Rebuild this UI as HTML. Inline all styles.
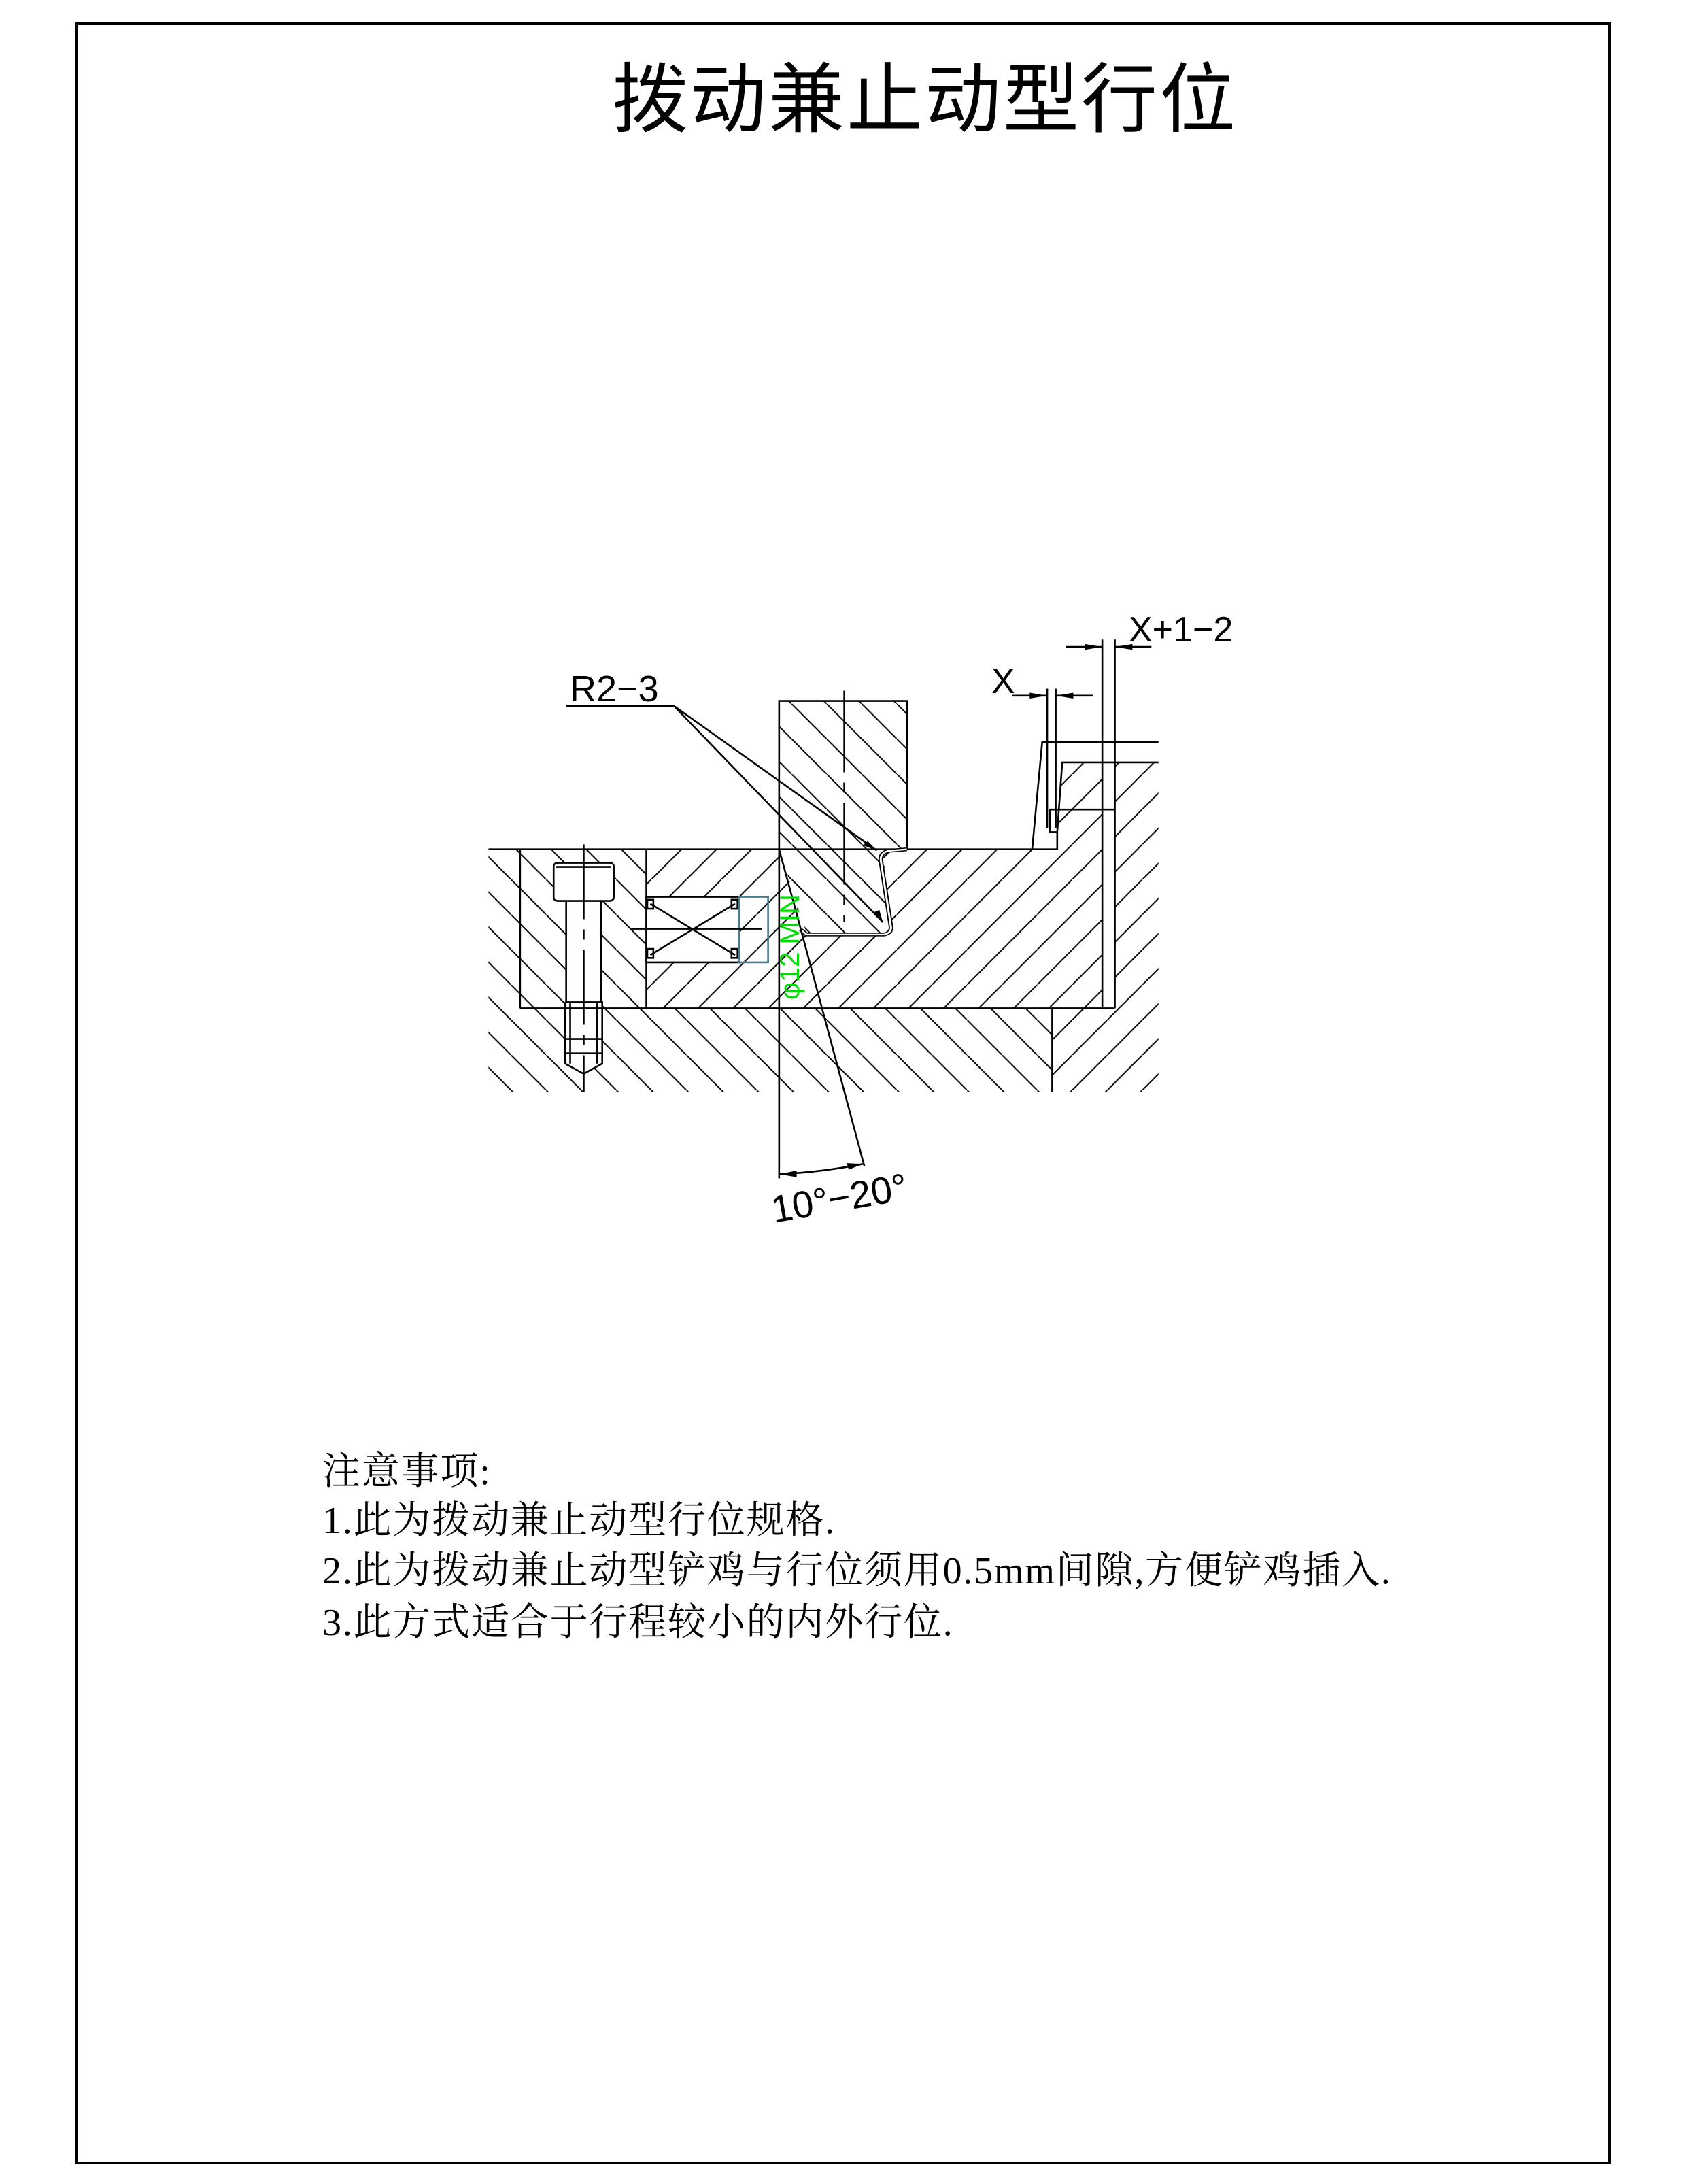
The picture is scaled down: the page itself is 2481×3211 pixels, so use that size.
<!DOCTYPE html>
<html><head><meta charset="utf-8"><style>
html,body{margin:0;padding:0;background:#fff;}
body{width:2481px;height:3211px;position:relative;overflow:hidden;}
svg{position:absolute;left:0;top:0;}
</style></head><body>
<svg width="2481" height="3211" viewBox="0 0 2481 3211" xmlns="http://www.w3.org/2000/svg">
<defs>
<pattern id="f" patternUnits="userSpaceOnUse" width="70" height="85.7"><line x1="-7" y1="94.3" x2="77" y2="-8.6" stroke="#000" stroke-width="3"/></pattern>
<pattern id="b" patternUnits="userSpaceOnUse" width="70" height="85.7"><line x1="-7" y1="-8.6" x2="77" y2="94.3" stroke="#000" stroke-width="3"/></pattern>
</defs>
<rect x="113" y="35" width="2254" height="3145" fill="none" stroke="#000" stroke-width="4"/>
<text x="1360" y="185" text-anchor="middle" font-family="'Liberation Sans','Noto Sans CJK SC',sans-serif" font-size="112" letter-spacing="3">拨动兼止动型行位</text>

<g transform="translate(700,880) scale(0.7369,0.6024)" fill="none" stroke="#000" stroke-width="2.6">
<rect x="25" y="612" width="315" height="388" fill="url(#b)" stroke="none"/>
<polygon points="340,612 1160,612 1160,515 1250,515 1250,1000 340,1000" fill="url(#f)" stroke="none"/>
<rect x="25" y="1000" width="1125" height="205" fill="url(#b)" stroke="none"/>
<rect x="1150" y="1000" width="212" height="205" fill="url(#f)" stroke="none"/>
<rect x="1275" y="400" width="87" height="600" fill="url(#f)" stroke="none"/>
<polygon points="1170,400 1250,400 1250,515 1160,515" fill="url(#f)" stroke="none"/>
<polygon points="605,250 860,250 860,612 812,620 830,805 818,818 660,818 605,612" fill="#fff" stroke="none"/>
<polygon points="605,250 860,250 860,612 812,620 830,805 818,818 660,818 605,612" fill="url(#b)" stroke="none"/>
<rect x="1250" y="100" width="25" height="900" fill="#fff" stroke="none"/>
<rect x="340" y="728" width="185" height="160" fill="#fff" stroke="none"/>
<rect x="155" y="645" width="120" height="93" fill="#fff" stroke="none"/>
<rect x="180" y="738" width="70" height="247" fill="#fff" stroke="none"/>
<polygon points="178,985 252,985 252,1135 215,1160 178,1135" fill="#fff" stroke="none"/>
<polygon points="1110,612 1130,350 1170,350 1160,570 1160,612" fill="#fff" stroke="none"/>
<g>
<polyline vector-effect="non-scaling-stroke" points="25,612 605,612"/>
<polyline vector-effect="non-scaling-stroke" points="860,612 1110,612"/>
<rect vector-effect="non-scaling-stroke" x="605" y="250" width="255" height="362"/>
<line vector-effect="non-scaling-stroke" x1="88" y1="612" x2="88" y2="1000"/>
<line vector-effect="non-scaling-stroke" x1="340" y1="612" x2="340" y2="1000"/>
<line vector-effect="non-scaling-stroke" x1="88" y1="1000" x2="1275" y2="1000"/>
<line vector-effect="non-scaling-stroke" x1="1150" y1="1000" x2="1150" y2="1205"/>
<line vector-effect="non-scaling-stroke" x1="1250" y1="100" x2="1250" y2="1000"/>
<line vector-effect="non-scaling-stroke" x1="1275" y1="100" x2="1275" y2="1000"/>
<path d="M860,612 L822,616 Q806,622 808,640 L828,800 Q830,815 815,820 L660,820 L648,808" stroke="#000" stroke-width="9" fill="none"/>
<path d="M860,612 L822,616 Q806,622 808,640 L828,800 Q830,815 815,820 L660,820 L648,808" stroke="#fff" stroke-width="4" fill="none"/>
<line vector-effect="non-scaling-stroke" x1="605" y1="612" x2="650" y2="815"/>
<line vector-effect="non-scaling-stroke" x1="735" y1="225" x2="735" y2="790" stroke-dasharray="120 15 15 15"/>
<rect vector-effect="non-scaling-stroke" x="155" y="645" width="120" height="93" rx="8"/>
<line vector-effect="non-scaling-stroke" x1="160" y1="655" x2="270" y2="655"/>
<line vector-effect="non-scaling-stroke" x1="180" y1="738" x2="180" y2="985"/>
<line vector-effect="non-scaling-stroke" x1="250" y1="738" x2="250" y2="985"/>
<polyline vector-effect="non-scaling-stroke" points="178,985 178,1135 215,1160 252,1135 252,985 178,985"/>
<line vector-effect="non-scaling-stroke" x1="188" y1="985" x2="188" y2="1135"/>
<line vector-effect="non-scaling-stroke" x1="242" y1="985" x2="242" y2="1135"/>
<line vector-effect="non-scaling-stroke" x1="178" y1="1075" x2="252" y2="1075"/>
<line vector-effect="non-scaling-stroke" x1="178" y1="1110" x2="252" y2="1110"/>
<line vector-effect="non-scaling-stroke" x1="215" y1="600" x2="215" y2="1205" stroke-dasharray="110 15 15 15"/>
<rect vector-effect="non-scaling-stroke" x="340" y="728" width="185" height="160"/>
<rect vector-effect="non-scaling-stroke" x="525" y="728" width="58" height="160" stroke="#4a7a90"/>
<line vector-effect="non-scaling-stroke" x1="348" y1="745" x2="517" y2="870"/>
<line vector-effect="non-scaling-stroke" x1="348" y1="870" x2="517" y2="745"/>
<line vector-effect="non-scaling-stroke" x1="310" y1="806" x2="570" y2="806"/>
<rect vector-effect="non-scaling-stroke" x="342" y="735" width="12" height="22"/>
<rect vector-effect="non-scaling-stroke" x="510" y="735" width="12" height="22"/>
<rect vector-effect="non-scaling-stroke" x="342" y="855" width="12" height="22"/>
<rect vector-effect="non-scaling-stroke" x="510" y="855" width="12" height="22"/>
<polyline vector-effect="non-scaling-stroke" points="1110,612 1130,350 1362,350"/>
<polyline vector-effect="non-scaling-stroke" points="1110,612 1160,612 1160,570 1145,570 1145,515 1275,515"/>
<polyline vector-effect="non-scaling-stroke" points="1160,570 1170,400 1362,400"/>
<line vector-effect="non-scaling-stroke" x1="1140" y1="220" x2="1140" y2="560"/>
<line vector-effect="non-scaling-stroke" x1="1157" y1="220" x2="1157" y2="560"/>
<line vector-effect="non-scaling-stroke" x1="1070" y1="237" x2="1140" y2="237"/>
<polygon points="1140,237 1105,230 1105,244" fill="#000" stroke="none"/>
<line vector-effect="non-scaling-stroke" x1="1157" y1="237" x2="1232" y2="237"/>
<polygon points="1157,237 1192,230 1192,244" fill="#000" stroke="none"/>
<line vector-effect="non-scaling-stroke" x1="1178" y1="118" x2="1250" y2="118"/>
<polygon points="1250,118 1215,111 1215,125" fill="#000" stroke="none"/>
<line vector-effect="non-scaling-stroke" x1="1275" y1="118" x2="1348" y2="118"/>
<polygon points="1275,118 1310,111 1310,125" fill="#000" stroke="none"/>
<line vector-effect="non-scaling-stroke" x1="180" y1="262" x2="395" y2="262"/>
<line vector-effect="non-scaling-stroke" x1="395" y1="262" x2="800" y2="615"/>
<line vector-effect="non-scaling-stroke" x1="395" y1="262" x2="812" y2="790"/>
<polygon points="800,615 772,602 782,592" fill="#000" stroke="none"/>
<polygon points="812,790 795,765 805,760" fill="#000" stroke="none"/>
<line vector-effect="non-scaling-stroke" x1="605" y1="612" x2="605" y2="1415"/>
<line vector-effect="non-scaling-stroke" x1="650" y1="815" x2="775" y2="1385"/>
<path vector-effect="non-scaling-stroke" d="M605,1405 Q690,1400 772,1380"/>
<polygon points="605,1405 640,1396 640,1412" fill="#000" stroke="none"/>
<polygon points="772,1380 740,1378 744,1394" fill="#000" stroke="none"/>
</g>
</g>
<g font-family="'Liberation Sans',sans-serif" fill="#000">
<text x="838" y="1031" font-size="54">R2−3</text>
<text x="1458" y="1019" font-size="52">X</text>
<text x="1660" y="943" font-size="52">X+1−2</text>
<text x="0" y="0" font-size="56" transform="translate(1138,1798) rotate(-10)">10°−20°</text>
<text x="0" y="0" font-size="40" fill="#00dd00" transform="translate(1175,1470) rotate(-90)">φ12 MIN</text>
</g>
<g font-family="'Liberation Serif','Noto Serif CJK SC',serif" font-size="56" fill="#000" letter-spacing="1.8">
<text x="474" y="2182">注意事项:</text>
<text x="474" y="2254">1.此为拨动兼止动型行位规格.</text>
<text x="474" y="2328">2.此为拨动兼止动型铲鸡与行位须用0.5mm间隙,方便铲鸡插入.</text>
<text x="474" y="2404">3.此方式适合于行程较小的内外行位.</text>
</g>
</svg>
</body></html>
